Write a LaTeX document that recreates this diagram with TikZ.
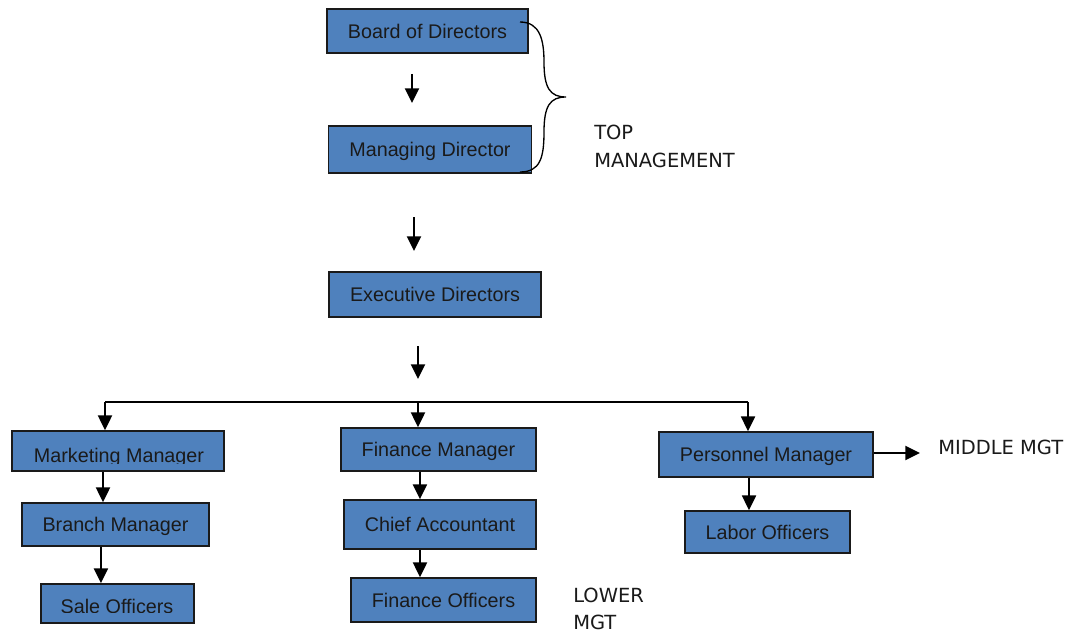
\documentclass[tikz,border=0pt]{standalone}
\usepackage{fontspec}
\setmainfont{Liberation Sans}
\newfontfamily\labelfont{DejaVu Sans}
\usetikzlibrary{arrows.meta}
\definecolor{boxblue}{HTML}{4F81BD}
\definecolor{ink}{HTML}{1A1A1A}
\begin{document}
\begin{tikzpicture}[x=0.75pt,y=-0.75pt,
  box/.style={draw=ink, line width=1.3pt, fill=boxblue, text=ink,
    font=\fontsize{14.8}{17}\selectfont, text height=10.6pt, text depth=0pt, inner sep=0pt},
  boxtext/.style={text=ink, font=\fontsize{14.8}{17}\selectfont, inner sep=0pt, anchor=base},
  arr/.style={-{Triangle[length=11pt,width=10.5pt]}, line width=1.4pt, draw=black},
  conn/.style={line width=1.4pt, draw=black},
  lbl/.style={font=\labelfont\fontsize{14.6}{21}\selectfont, text=ink, inner sep=0pt}]
\useasboundingbox (0,0) rectangle (1075,635);
\fill[white] (0,0) rectangle (1075,635);

% top management
\node[box, minimum width=150.75pt, minimum height=33pt] (bod) at (427.5,31) {Board of Directors};
\node[box, minimum width=152.25pt, minimum height=35.25pt] (md) at (430,149.5) {Managing Director};
\node[box, minimum width=159pt, minimum height=33.75pt] (ed) at (435,294.5) {Executive Directors};

% middle
\node[box, minimum width=159pt, minimum height=30pt] (mm) at (118,451) {};
\begin{scope}
  \clip (mm.north west) rectangle (224,463);
  \node[boxtext] (mmt) at (119,462.5) {Marketing Manager};
\end{scope}
\node[box, minimum width=146.25pt, minimum height=32.25pt] (fm) at (438.5,449.5) {Finance Manager};
\node[box, minimum width=160.5pt, minimum height=33.75pt] (pm) at (766,454.5) {Personnel Manager};

% lower
\node[box, minimum width=140.25pt, minimum height=32.25pt] (bm) at (115.5,524.5) {Branch Manager};
\node[box, minimum width=114.75pt, minimum height=29.25pt] (so) at (117.5,603.5) {};
\begin{scope}
  \clip (so.north west) rectangle (194,612);
  \node[boxtext] (sot) at (117,613) {Sale Officers};
\end{scope}
\node[box, minimum width=144pt, minimum height=36.75pt] (ca) at (440,524.5) {Chief Accountant};
\node[box, minimum width=138.75pt, minimum height=33pt] (fo) at (443.5,600) {Finance Officers};
\node[box, minimum width=123.75pt, minimum height=31.5pt] (lo) at (767.5,532) {Labor Officers};

% free-standing arrows
\coordinate (a1s) at (412,74);  \coordinate (a1e) at (412,103);
\coordinate (a2s) at (414,217); \coordinate (a2e) at (414,251);
\coordinate (a3s) at (418,346); \coordinate (a3e) at (418,379);
\draw[arr] (a1s) -- (a1e);
\draw[arr] (a2s) -- (a2e);
\draw[arr] (a3s) -- (a3e);

% branching line
\coordinate (hl) at (105,402);
\coordinate (hm) at (418,402);
\coordinate (hr) at (748,402);
\draw[conn] (hl) -- (hr);
\draw[arr] (hl) -- (hl |- mm.north);
\draw[arr] (hm) -- (hm |- fm.north);
\draw[arr] (hr) -- (hr |- pm.north);

% vertical links
\draw[arr] ([xshift=-11.25pt]mm.south) -- ([xshift=-11.25pt]mm.south |- bm.north);
\draw[arr] ([xshift=-10.9pt]bm.south) -- ([xshift=-10.9pt]bm.south |- so.north);
\draw[arr] ([xshift=-13.9pt]fm.south) -- ([xshift=-13.9pt]fm.south |- ca.north);
\draw[arr] ([xshift=-15pt]ca.south) -- ([xshift=-15pt]ca.south |- fo.north);
\draw[arr] ([xshift=-12.75pt]pm.south) -- ([xshift=-12.75pt]pm.south |- lo.north);

% middle mgt arrow and label
\coordinate (mmg) at (920,453);
\draw[arr] (pm.east |- mmg) -- (mmg);
\node[lbl, anchor=west] (midlbl) at (938,447) {MIDDLE MGT};

% brace for top management
\draw[line width=1pt, black] (520,22) .. controls (540,22) and (544,40) .. (544,62)
  .. controls (544,88) and (550,97) .. (566,97)
  .. controls (550,97) and (544,106) .. (544,132)
  .. controls (544,158) and (540,172) .. (520,172);
\node[lbl, anchor=north west, align=left] (toplbl) at (594,125) {TOP\\MANAGEMENT};

% lower mgt label
\node[lbl, anchor=north west, align=left, font=\labelfont\fontsize{14.6}{20}\selectfont] (lowlbl) at (573,588) {LOWER\\MGT};
\end{tikzpicture}
\end{document}
